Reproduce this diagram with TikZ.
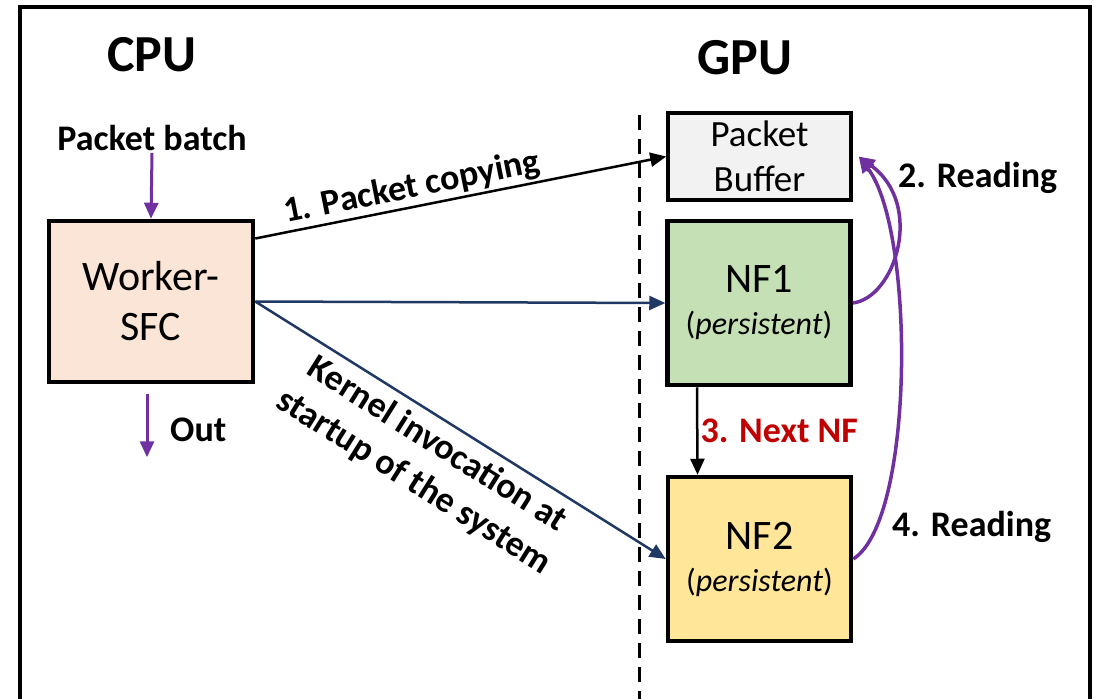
\documentclass[tikz,border=0pt]{standalone}
\usepackage{fontspec}
\setmainfont{Carlito}
\usetikzlibrary{arrows.meta, positioning}
\definecolor{workerfill}{HTML}{FBE5D6}
\definecolor{nfonefill}{HTML}{C5E0B4}
\definecolor{nftwofill}{HTML}{FFE699}
\definecolor{buffill}{HTML}{F2F2F2}
\definecolor{invblue}{HTML}{203864}
\definecolor{readpurple}{HTML}{7030A0}
\definecolor{nextred}{HTML}{C00000}

\begin{document}
\begin{tikzpicture}[x=1pt, y=-1pt,
    every node/.style={inner sep=2pt},
    title/.style={font=\fontsize{52}{62}\selectfont\bfseries},
    lbl/.style={font=\fontsize{36}{44}\selectfont\bfseries, text=black},
    box/.style={draw, line width=4.5pt, align=center, minimum width=183pt, font=\fontsize{42}{50}\selectfont},
    tip/.style={-{Triangle[length=16pt, width=14pt]}},
    cpy/.style={tip, line width=2.5pt},
    inv/.style={tip, line width=2.5pt, invblue},
    rd/.style={tip, line width=3.5pt, readpurple}
]
\useasboundingbox (0,0) rectangle (1099,698);
% Frame and split
\draw[line width=4.5pt] (20,720) -- (20,7) -- (1090,7) -- (1090,720);
\draw[line width=3pt, dash pattern=on 15pt off 9pt] (639,115) -- (639,710);
\node[title] (cpu) at (152,55) {CPU};
\node[title] (gpu) at (745,58) {GPU};

% CPU side
\node[box, fill=workerfill, minimum width=204pt, minimum height=161pt] (worker) at (151,301.5) {Worker-\\SFC};
\node[lbl] (batch) at (152,138) {Packet batch};
\draw[rd, line width=3pt] (batch.south) -- (worker.north);
\coordinate (outtop) at ([xshift=-4pt, yshift=-10pt]worker.south);
\coordinate (outend) at ([xshift=-4pt, yshift=-73pt]worker.south);
\draw[rd, line width=3pt] (outtop) -- (outend);
\node[lbl, anchor=west] (out) at (168,430) {Out};

% GPU side
\node[box, line width=3.5pt, fill=buffill, minimum height=87pt, font=\fontsize{37}{45}\selectfont] (buf) at (759.5,156.5) {Packet\\Buffer};
\node[box, fill=nfonefill, minimum height=164pt] (nf1) at (759,303) {NF1\\[-8pt]{\fontsize{32}{38}\selectfont(\textit{persistent})}};
\node[box, fill=nftwofill, minimum height=164pt] (nf2) at (759.5,559) {NF2\\[-8pt]{\fontsize{32}{38}\selectfont(\textit{persistent})}};

% Connectors
\draw[cpy] ([yshift=63pt]worker.east) -- (buf.west)
    node[lbl, pos=0.39, above, sloped] {1. Packet copying};
\draw[inv] (worker.east) -- (nf1.west);
\draw[inv] (worker.east) -- (nf2.west)
    node[lbl, pos=0.475, below=6pt, sloped, align=center] {Kernel invocation at\\startup of the system};
\draw[cpy] ([xshift=-62pt]nf1.south) -- ([xshift=-62pt]nf2.north)
    node[lbl, midway, right, text=nextred] (next) {3. Next NF};
\draw[rd] (nf1.east) .. controls (895,298) and (925,205) .. ([xshift=6pt]buf.east);
\draw[rd] (nf2.east) .. controls (915,520) and (915,230) .. ([xshift=6pt]buf.east);
\node[lbl, anchor=west] (read1) at (896,178) {2. Reading};
\node[lbl, anchor=west] (read2) at (890,527) {4. Reading};
\end{tikzpicture}
\end{document}
